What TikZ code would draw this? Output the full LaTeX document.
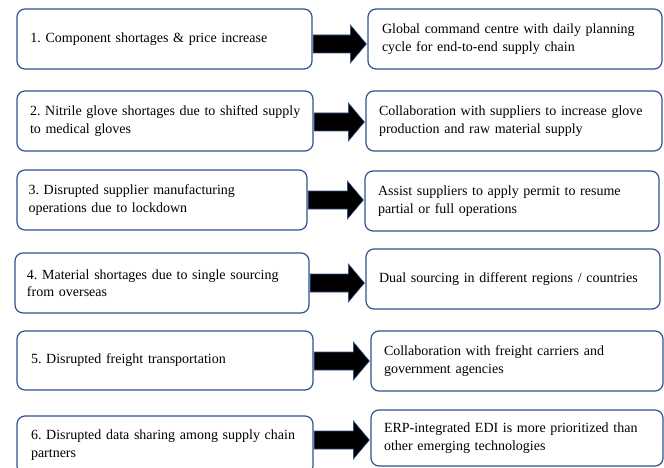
\documentclass[tikz,border=0pt]{standalone}
\usepackage{fontspec}
\setmainfont{Liberation Serif}
\usetikzlibrary{calc}
\definecolor{boxblue}{HTML}{2F528F}
\frenchspacing
\newcommand\blockarrow[3]{%
  \draw[barrow] ($(#1.east |- 0,#3)+(0.6,-9)$) -- ($(#2.west |- 0,#3)+(-17,-9)$)
    -- ($(#2.west |- 0,#3)+(-17,-19)$) -- ($(#2.west |- 0,#3)+(-1,0)$)
    -- ($(#2.west |- 0,#3)+(-17,19)$) -- ($(#2.west |- 0,#3)+(-17,9)$)
    -- ($(#1.east |- 0,#3)+(0.6,9)$) -- cycle;}
\begin{document}
\begin{tikzpicture}[x=1pt,y=-1pt,
  box/.style={draw=boxblue, line width=1.2pt, rounded corners=8pt, fill=white,
    align=left, inner ysep=0pt, font=\fontsize{14}{17.5}\selectfont\frenchspacing},
  barrow/.style={fill=black, draw=boxblue, line width=0.6pt, line join=miter}]
\useasboundingbox (0,0) rectangle (664,468);
% left column
\node[box, minimum width=295, minimum height=60, inner xsep=13.5, text width=268] (L1) at (164.5,39)
  {\raisebox{-2.5pt}{\mbox{1. Component shortages \& price increase}}};
\node[box, minimum width=296, minimum height=60, inner xsep=13, text width=270] (L2) at (165,121)
  {\mbox{2. Nitrile glove shortages due to shifted supply}\\\mbox{to medical gloves}};
\node[box, minimum width=290, minimum height=60, inner xsep=11.5, text width=267] (L3) at (162,200)
  {\mbox{3. Disrupted supplier manufacturing}\\\mbox{operations due to lockdown}};
\node[box, minimum width=294, minimum height=60, inner xsep=12, text width=270] (L4) at (162,283)
  {\mbox{4. Material shortages due to single sourcing}\\\mbox{from overseas}};
\node[box, minimum width=296, minimum height=59, inner xsep=14, text width=268] (L5) at (165,360.5)
  {\mbox{5. Disrupted freight transportation}};
\node[box, minimum width=296, minimum height=58, inner xsep=14, text width=268] (L6) at (165,445)
  {\mbox{6. Disrupted data sharing among supply chain}\\\mbox{partners}};
% right column
\node[box, minimum width=294, minimum height=60, inner xsep=14, text width=266] (R1) at (515,39)
  {\mbox{Global command centre with daily planning}\\\mbox{cycle for end-to-end supply chain}};
\node[box, minimum width=296, minimum height=60, inner xsep=13, text width=270] (R2) at (514,121)
  {\mbox{Collaboration with suppliers to increase glove}\\\mbox{production and raw material supply}};
\node[box, minimum width=294, minimum height=60, inner xsep=13, text width=268] (R3) at (512,201)
  {\mbox{Assist suppliers to apply permit to resume}\\\mbox{partial or full operations}};
\node[box, minimum width=294, minimum height=60, inner xsep=13, text width=268] (R4) at (513,279)
  {\mbox{Dual sourcing in different regions / countries}};
\node[box, minimum width=292, minimum height=60, inner xsep=13, text width=266] (R5) at (517,361)
  {\mbox{Collaboration with freight carriers and}\\\mbox{government agencies}};
\node[box, minimum width=292, minimum height=56, inner xsep=13, text width=266] (R6) at (517,438)
  {\mbox{ERP-integrated EDI is more prioritized than}\\\mbox{other emerging technologies}};
% arrows
\blockarrow{L1}{R1}{44}
\blockarrow{L2}{R2}{122}
\blockarrow{L3}{R3}{200}
\blockarrow{L4}{R4}{283}
\blockarrow{L5}{R5}{361}
\blockarrow{L6}{R6}{440}
\end{tikzpicture}
\end{document}
